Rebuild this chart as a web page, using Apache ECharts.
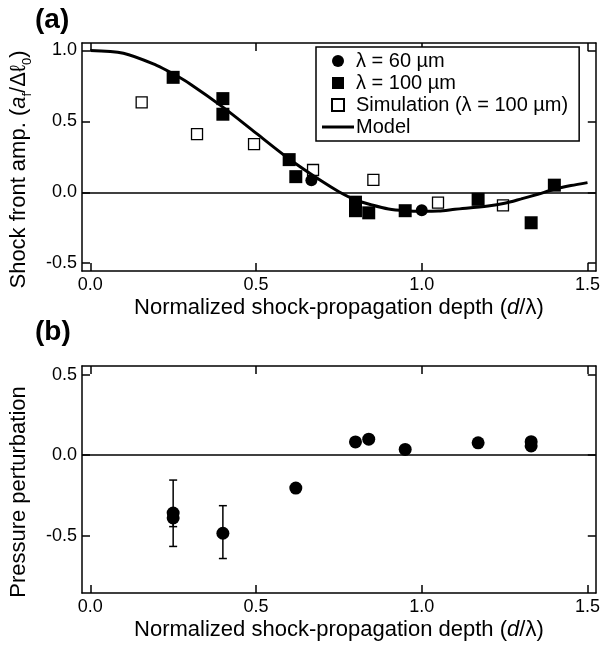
<!DOCTYPE html>
<html>
<head>
<meta charset="utf-8">
<script src="https://cdn.jsdelivr.net/npm/echarts@6/dist/echarts.min.js"></script>
<style>
  html, body { margin: 0; padding: 0; background: #fff; }
  #chart { width: 603px; height: 649px; }
</style>
</head>
<body>
<div id="chart"></div>
<script>
// ---- data ----
const xTicks = [0, 0.5, 1.0, 1.5];
const yTicksA = [-0.5, 0, 0.5, 1.0];
const yTicksB = [-0.5, 0, 0.5];

// panel (a): model curve
const modelX = [0, 0.1, 0.2, 0.25, 0.3, 0.4, 0.5, 0.6, 0.7, 0.75, 0.8, 0.85, 0.9, 0.95, 1.0, 1.05, 1.1, 1.2, 1.25, 1.3, 1.35, 1.4, 1.45, 1.5];
const modelY = [1.0, 0.98, 0.895, 0.835, 0.765, 0.60, 0.417, 0.235, 0.075, 0.004, -0.054, -0.09, -0.118, -0.13, -0.134, -0.132, -0.12, -0.097, -0.078, -0.047, -0.014, 0.021, 0.047, 0.068];

// panel (a): lambda = 100 um (filled squares)
const sq100X = [0.25, 0.40, 0.40, 0.60, 0.62, 0.80, 0.80, 0.84, 0.95, 1.17, 1.33, 1.40];
const sq100Y = [0.81, 0.66, 0.55, 0.23, 0.11, -0.07, -0.13, -0.145, -0.13, -0.05, -0.215, 0.05];

// panel (a): lambda = 60 um (filled circles)
const c60X = [0.667, 1.0];
const c60Y = [0.085, -0.127];

// panel (a): simulation (open squares)
const simX = [0.155, 0.322, 0.494, 0.672, 0.854, 1.049, 1.245];
const simY = [0.633, 0.41, 0.339, 0.157, 0.087, -0.073, -0.092];

// panel (b): pressure perturbation
const pX = [0.25, 0.25, 0.40, 0.62, 0.80, 0.84, 0.95, 1.17, 1.33, 1.33];
const pY = [-0.36, -0.39, -0.485, -0.205, 0.082, 0.099, 0.035, 0.076, 0.083, 0.057];
const pLow = [-0.567, -0.444, -0.642, null, null, null, null, null, null, null];
const pHigh = [-0.155, -0.336, -0.314, null, null, null, null, null, null, null];

const FONT = 'Liberation Sans, Arial, Helvetica, sans-serif';
const zip = (a, b) => a.map((v, i) => [v, b[i]]);
const SQUARE = 'path://M0,0H10V10H0Z';
const BAR = 'path://M0,0H32V3H0Z';

const chart = echarts.init(document.getElementById('chart'));

function xAxisFor(grid, pos, withLabels) {
  return {
    type: 'value', gridIndex: grid, position: pos,
    min: -0.025, max: 1.525,
    axisLine: { show: true, onZero: false, lineStyle: { color: '#000', width: 1.5 } },
    axisTick: { show: true, inside: true, length: 8, customValues: xTicks, lineStyle: { color: '#000', width: 1.5 } },
    axisLabel: {
      show: withLabels, customValues: xTicks, margin: 5,
      color: '#000', fontSize: 18, fontFamily: FONT,
      formatter: v => v.toFixed(1)
    },
    splitLine: { show: false },
    name: withLabels ? '{t|Normalized shock-propagation depth (}{i|d}{t|/λ)}' : '',
    nameLocation: 'middle', nameGap: 26,
    nameTextStyle: {
      rich: {
        t: { fontSize: 22, fontFamily: FONT, color: '#000' },
        i: { fontSize: 22, fontFamily: FONT, color: '#000', fontStyle: 'italic' }
      }
    }
  };
}

function yAxisFor(grid, pos, min, max, ticks, name) {
  return {
    type: 'value', gridIndex: grid, position: pos,
    min: min, max: max,
    axisLine: { show: true, onZero: false, lineStyle: { color: '#000', width: 1.5 } },
    axisTick: { show: true, inside: true, length: 8, customValues: ticks, lineStyle: { color: '#000', width: 1.5 } },
    axisLabel: {
      show: pos === 'left', customValues: ticks, margin: 5,
      color: '#000', fontSize: 18, fontFamily: FONT,
      formatter: v => v.toFixed(1)
    },
    splitLine: { show: false },
    name: name || '',
    nameLocation: 'middle', nameGap: 48, nameRotate: 90,
    nameTextStyle: {
      padding: [0, 25, 0, 0],
      rich: {
        t: { fontSize: 22, fontFamily: FONT, color: '#000', lineHeight: 30 },
        i: { fontSize: 22, fontFamily: FONT, color: '#000', fontStyle: 'italic', lineHeight: 30 },
        s: { fontSize: 13, fontFamily: FONT, color: '#000', verticalAlign: 'bottom', lineHeight: 14 }
      }
    }
  };
}

const zeroLine = {
  silent: true, symbol: 'none', label: { show: false },
  lineStyle: { color: '#000', width: 1.5, type: 'solid' },
  data: [{ yAxis: 0 }]
};

chart.setOption({
  animation: false,
  title: [
    { text: '(a)', left: 35, top: 6, padding: 0, textStyle: { fontSize: 28, fontWeight: 'bold', fontFamily: FONT, color: '#000' } },
    { text: '(b)', left: 35, top: 318, padding: 0, textStyle: { fontSize: 28, fontWeight: 'bold', fontFamily: FONT, color: '#000' } }
  ],
  grid: [
    { left: 81, top: 43, width: 517, height: 228 },
    { left: 81, top: 366, width: 517, height: 227 }
  ],
  legend: {
    orient: 'vertical', left: 316, top: 47,
    padding: [4, 11, 4, 6],
    borderColor: '#000', borderWidth: 1.5,
    backgroundColor: '#fff',
    itemWidth: 32, itemHeight: 12, itemGap: 2,
    symbolKeepAspect: true,
    textStyle: { fontSize: 20, fontFamily: FONT, color: '#000', padding: [0, 0, 0, -3] },
    data: [
      { name: 'λ = 60 µm', icon: 'circle' },
      { name: 'λ = 100 µm', icon: SQUARE },
      { name: 'Simulation (λ = 100 µm)', icon: SQUARE },
      { name: 'Model', icon: BAR }
    ]
  },
  xAxis: [
    xAxisFor(0, 'bottom', true),
    xAxisFor(0, 'top', false),
    xAxisFor(1, 'bottom', true),
    xAxisFor(1, 'top', false)
  ],
  yAxis: [
    yAxisFor(0, 'left', -0.555, 1.052, yTicksA, '{t|Shock front amp. (}{i|a}{s|f}{t|/Δℓ}{s|0}{t|)}'),
    yAxisFor(0, 'right', -0.555, 1.052, yTicksA),
    yAxisFor(1, 'left', -0.856, 0.553, yTicksB, '{t|Pressure perturbation}'),
    yAxisFor(1, 'right', -0.856, 0.553, yTicksB)
  ],
  series: [
    {
      name: 'Model', type: 'line', xAxisIndex: 0, yAxisIndex: 0,
      data: zip(modelX, modelY), smooth: 0.3, symbol: 'none',
      lineStyle: { color: '#000', width: 3 }, itemStyle: { color: '#000' },
      z: 3
    },
    {
      name: 'Simulation (λ = 100 µm)', type: 'scatter', xAxisIndex: 0, yAxisIndex: 0,
      data: zip(simX, simY), symbol: 'rect', symbolSize: 11,
      itemStyle: { color: '#fff', borderColor: '#000', borderWidth: 1.3, opacity: 1 },
      z: 2
    },
    {
      name: 'λ = 100 µm', type: 'scatter', xAxisIndex: 0, yAxisIndex: 0,
      data: zip(sq100X, sq100Y), symbol: 'rect', symbolSize: 13,
      itemStyle: { color: '#000', opacity: 1 },
      markLine: zeroLine, z: 4
    },
    {
      name: 'λ = 60 µm', type: 'scatter', xAxisIndex: 0, yAxisIndex: 0,
      data: zip(c60X, c60Y), symbol: 'circle', symbolSize: 12,
      itemStyle: { color: '#000', opacity: 1 }, z: 4
    },
    {
      name: 'pressure', type: 'scatter', xAxisIndex: 2, yAxisIndex: 2,
      data: zip(pX, pY), symbol: 'circle', symbolSize: 13,
      itemStyle: { color: '#000', opacity: 1 },
      markLine: zeroLine, z: 4
    },
    {
      name: 'pressure error', type: 'custom', xAxisIndex: 2, yAxisIndex: 2,
      data: pX.map((x, i) => [x, pLow[i], pHigh[i]]).filter(d => d[1] !== null),
      encode: { x: 0, y: [1, 2] },
      renderItem: function (params, api) {
        const x = api.value(0);
        const lo = api.coord([x, api.value(1)]);
        const hi = api.coord([x, api.value(2)]);
        const w = 4;
        const st = { stroke: '#000', lineWidth: 1.5 };
        return {
          type: 'group',
          children: [
            { type: 'line', shape: { x1: lo[0], y1: lo[1], x2: hi[0], y2: hi[1] }, style: st },
            { type: 'line', shape: { x1: lo[0] - w, y1: lo[1], x2: lo[0] + w, y2: lo[1] }, style: st },
            { type: 'line', shape: { x1: hi[0] - w, y1: hi[1], x2: hi[0] + w, y2: hi[1] }, style: st }
          ]
        };
      },
      z: 3
    }
  ]
});
</script>
</body>
</html>
